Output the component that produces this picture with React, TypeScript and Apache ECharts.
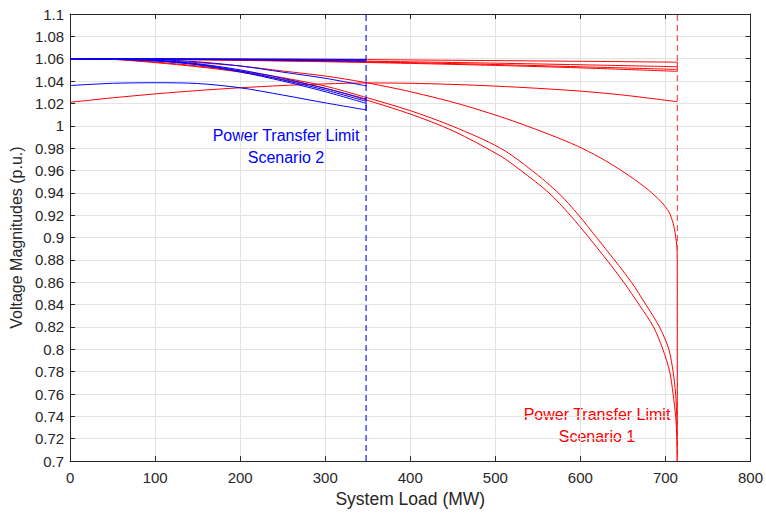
import React, { useEffect, useRef } from "react";
import * as echarts from "echarts";

// ---- Data ----
const xTicks = [0, 100, 200, 300, 400, 500, 600, 700, 800];
const yRange = [0.7, 1.1];

const limitScenario2 = 348;
const limitScenario1 = 714;

// Scenario 1 (red) – nearly flat buses
const loadS1Flat = [0, 100, 200, 300, 400, 500, 600, 714];
const vS1F1 = [1.06, 1.0599, 1.0597, 1.0594, 1.0589, 1.0583, 1.0577, 1.0569];
const vS1F2 = [1.06, 1.0596, 1.059, 1.0582, 1.0572, 1.056, 1.0546, 1.0528];
const vS1F3 = [1.06, 1.0595, 1.0587, 1.0577, 1.0564, 1.0548, 1.0528, 1.0504];
const vS1F4 = [1.06, 1.0594, 1.0585, 1.0573, 1.0558, 1.054, 1.0518, 1.0487];

// Scenario 1 – steep bus A
const loadS1A = [0, 50, 100, 150, 200, 250, 300, 345, 400, 450, 506, 543, 574, 598, 619, 640, 660, 677, 693, 704, 709, 712, 713.5, 714];
const vS1A = [1.06, 1.0595, 1.057, 1.0535, 1.049, 1.043, 1.0355, 1.026, 1.0135, 0.9995, 0.98, 0.96, 0.94, 0.92, 0.9, 0.88, 0.86, 0.84, 0.82, 0.8, 0.78, 0.76, 0.735, 0.7];

// Scenario 1 – steep bus B
const loadS1B = [0, 50, 100, 150, 200, 250, 300, 345, 400, 450, 506, 530, 563, 588, 610, 631, 651, 669, 686, 697, 705, 709, 712, 713.5, 714];
const vS1B = [1.06, 1.0594, 1.0565, 1.0528, 1.048, 1.0415, 1.0335, 1.0238, 1.0105, 0.9955, 0.973, 0.96, 0.94, 0.92, 0.9, 0.88, 0.86, 0.84, 0.82, 0.8, 0.78, 0.76, 0.74, 0.72, 0.7];

// Scenario 1 – bus C (ends at 0.88)
const loadS1C = [0, 50, 100, 150, 200, 250, 300, 345, 400, 460, 520, 576, 603, 630, 658, 680, 695, 704, 709, 712, 713.5, 714];
const vS1C = [1.06, 1.0597, 1.0585, 1.0565, 1.0535, 1.049, 1.0445, 1.039, 1.0305, 1.019, 1.0045, 0.9885, 0.9795, 0.9685, 0.955, 0.9425, 0.932, 0.923, 0.913, 0.901, 0.891, 0.88];

// Scenario 1 – bus D (starts at 1.02)
const loadS1D = [0, 50, 100, 150, 200, 250, 300, 350, 400, 450, 500, 550, 600, 650, 714];
const vS1D = [1.021, 1.025, 1.0285, 1.0315, 1.034, 1.036, 1.0375, 1.0383, 1.038, 1.037, 1.0355, 1.0335, 1.031, 1.0275, 1.0215];

// Scenario 1 end drops at the limit
const dropS1Top = [1.0569, 1.0487];
const dropS1Bottom = [0.88, 0.7];

// Scenario 2 (blue)
const loadS2 = [0, 50, 100, 150, 200, 250, 300, 348];
const vS2T1 = [1.06, 1.06, 1.0599, 1.0598, 1.0597, 1.0596, 1.0595, 1.0594];
const vS2T2 = [1.06, 1.0599, 1.0598, 1.0596, 1.0594, 1.0591, 1.0588, 1.0585];
const vS2T3 = [1.06, 1.0599, 1.0597, 1.0594, 1.059, 1.0586, 1.0582, 1.0577];
const vS2A = [1.06, 1.0598, 1.0592, 1.0572, 1.0535, 1.048, 1.0425, 1.0357];
const vS2B = [1.06, 1.0597, 1.0585, 1.0555, 1.05, 1.0425, 1.0335, 1.0239];
const vS2C = [1.06, 1.0596, 1.0582, 1.055, 1.049, 1.041, 1.032, 1.0219];
const vS2D = [1.06, 1.0595, 1.058, 1.0545, 1.0482, 1.04, 1.0305, 1.0201];
const vS2E = [1.036, 1.038, 1.0385, 1.0378, 1.034, 1.0275, 1.0205, 1.0142];

const dropS2Upper = [1.0395, 1.0357];
const dropS2Lower = [1.0255, 1.0135];

const RED = "#ff0000";
const BLUE = "#0000ff";
const FONT = "'Liberation Sans', Arial, Helvetica, sans-serif";
const AXIS = "#262626";

const zip = (xs: number[], ys: number[]) => xs.map((x, i) => [x, ys[i]]);
const vertical = (x: number, ys: number[]) => ys.map((y) => [x, y]);

function curve(data: number[][], color: string, smooth = true, dashed = false) {
  return {
    type: "line",
    data,
    showSymbol: false,
    symbol: "none",
    silent: true,
    smooth: smooth ? 0.3 : false,
    lineStyle: { color, width: dashed ? 1.1 : 1, type: dashed ? [6, 4] : "solid" },
    itemStyle: { color },
  };
}

export default function App() {
  const ref = useRef<HTMLDivElement>(null);
  useEffect(() => {
    document.body.style.margin = "0";
    const chart = echarts.init(ref.current!, null, { renderer: "svg" });
    const axisCommon = {
      type: "value",
      axisLine: { show: true, onZero: false, lineStyle: { color: AXIS, width: 1 } },
      axisTick: { show: true, inside: true, length: 5, lineStyle: { color: AXIS } },
    };
    const series: any[] = [
      curve(zip(loadS1Flat, vS1F1), RED),
      curve(zip(loadS1Flat, vS1F2), RED),
      curve(zip(loadS1Flat, vS1F3), RED),
      curve(zip(loadS1Flat, vS1F4), RED),
      curve(zip(loadS1A, vS1A), RED),
      curve(zip(loadS1B, vS1B), RED),
      curve(zip(loadS1C, vS1C), RED),
      curve(zip(loadS1D, vS1D), RED),
      curve(vertical(limitScenario1, dropS1Top), RED, false),
      curve(vertical(limitScenario1, dropS1Bottom), RED, false),
      curve(vertical(limitScenario1, yRange), "#ff3b3b", false, true),
      curve(zip(loadS2, vS2T1), BLUE),
      curve(zip(loadS2, vS2T2), BLUE),
      curve(zip(loadS2, vS2T3), BLUE),
      curve(zip(loadS2, vS2A), BLUE),
      curve(zip(loadS2, vS2B), BLUE),
      curve(zip(loadS2, vS2C), BLUE),
      curve(zip(loadS2, vS2D), BLUE),
      curve(zip(loadS2, vS2E), BLUE),
      curve(vertical(limitScenario2, dropS2Upper), BLUE, false),
      curve(vertical(limitScenario2, dropS2Lower), BLUE, false),
      curve(vertical(limitScenario2, yRange), BLUE, false, true),
    ];
    chart.setOption({
      animation: false,
      backgroundColor: "#ffffff",
      textStyle: { fontFamily: FONT },
      grid: { left: 65, right: 14, top: 14, bottom: 47, containLabel: false },
      xAxis: [
        {
          ...axisCommon,
          position: "bottom",
          min: xTicks[0],
          max: xTicks[xTicks.length - 1],
          interval: 100,
          axisLabel: { color: AXIS, fontSize: 15, margin: 9, fontFamily: FONT },
          splitLine: { show: true, lineStyle: { color: "#e3e3e3", width: 1 } },
          name: "System Load (MW)",
          nameLocation: "middle",
          nameGap: 28,
          nameTextStyle: { color: AXIS, fontSize: 17.5, fontFamily: FONT },
        },
        {
          ...axisCommon,
          position: "top",
          min: xTicks[0],
          max: xTicks[xTicks.length - 1],
          interval: 100,
          axisLabel: { show: false },
          splitLine: { show: false },
        },
      ],
      yAxis: [
        {
          ...axisCommon,
          position: "left",
          min: yRange[0],
          max: yRange[1],
          interval: 0.02,
          axisLabel: {
            color: AXIS,
            fontSize: 15,
            margin: 6,
            fontFamily: FONT,
            formatter: (v: number) => String(parseFloat(v.toFixed(2))),
          },
          splitLine: { show: true, lineStyle: { color: "#e3e3e3", width: 1 } },
          name: "Voltage Magnitudes (p.u.)",
          nameLocation: "middle",
          nameGap: 40,
          nameTextStyle: { color: AXIS, fontSize: 16, fontFamily: FONT },
        },
        {
          ...axisCommon,
          position: "right",
          min: yRange[0],
          max: yRange[1],
          interval: 0.02,
          axisLabel: { show: false },
          splitLine: { show: false },
        },
      ],
      graphic: [
        {
          type: "text",
          x: 286,
          y: 124,
          style: {
            text: "Power Transfer Limit\nScenario 2",
            align: "center",
            verticalAlign: "top",
            lineHeight: 22,
            fill: BLUE,
            font: `16px ${FONT}`,
          },
        },
        {
          type: "text",
          x: 597,
          y: 403,
          style: {
            text: "Power Transfer Limit\nScenario 1",
            align: "center",
            verticalAlign: "top",
            lineHeight: 22,
            fill: RED,
            font: `16px ${FONT}`,
          },
        },
      ],
      series,
    });
    return () => chart.dispose();
  }, []);
  return (
    <div
      ref={ref}
      style={{ width: 766, height: 513, position: "absolute", left: 0, top: 0 }}
    />
  );
}
